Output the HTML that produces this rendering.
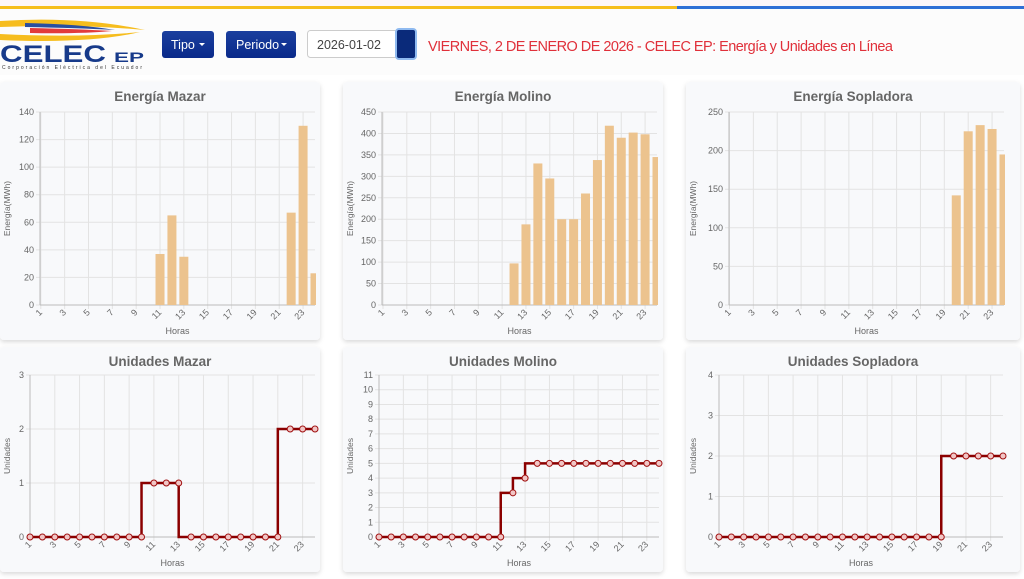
<!DOCTYPE html>
<html><head><meta charset="utf-8">
<style>
html,body{margin:0;padding:0;background:#fff;width:1024px;height:579px;overflow:hidden;font-family:"Liberation Sans",sans-serif}
</style></head><body>
<svg id="s" width="1024" height="579" xmlns="http://www.w3.org/2000/svg" font-family="Liberation Sans, sans-serif">
<defs>
<filter id="sh" x="-5%" y="-5%" width="110%" height="115%"><feDropShadow dx="0" dy="2" stdDeviation="2.5" flood-color="#000" flood-opacity="0.15"/></filter>
<linearGradient id="bt" x1="0" y1="0" x2="0" y2="1"><stop offset="0" stop-color="#1b3f9e"/><stop offset="1" stop-color="#0a2a8a"/></linearGradient>
</defs>
<rect x="0" y="0" width="1024" height="7" fill="#fdf6fa"/>
<rect x="0" y="6" width="677" height="3" fill="#f6bd1e"/>
<rect x="677" y="6" width="347" height="3" fill="#2f6fd6"/>
<rect x="0" y="9" width="1024" height="66" fill="#fcfcfc"/>
<!-- logo -->
<path d="M0,21 Q80,16 145,30 Q80,24 0,27 Z" fill="#f6bd1e"/>
<path d="M25,23 Q80,24 115,30 Q80,28 25,27 Z" fill="#2a4fa0"/>
<path d="M30,28 Q80,29 112,31 Q80,34 30,33 Z" fill="#e23b3b"/>
<path d="M0,34 Q80,38 140,32 Q90,44 0,40 Z" fill="#f6bd1e"/>
<text x="0" y="62" font-size="24" font-weight="bold" fill="#173a8a" textLength="106" lengthAdjust="spacingAndGlyphs">CELEC</text>
<text x="114" y="62" font-size="14" font-weight="bold" fill="#173a8a" textLength="30" lengthAdjust="spacingAndGlyphs">EP</text>
<text x="2" y="69" font-size="5" fill="#333" textLength="140">Corporación Eléctrica del Ecuador</text>
<rect x="162" y="31" width="52" height="27" rx="3" fill="url(#bt)"/>
<text x="171" y="49" font-size="12.5" fill="#fff">Tipo</text>
<path d="M199,43 l6,0 l-3,3z" fill="#fff"/>
<rect x="226" y="31" width="70" height="27" rx="3" fill="url(#bt)"/>
<text x="236" y="49" font-size="12.5" fill="#fff">Periodo</text>
<path d="M281,43 l6,0 l-3,3z" fill="#fff"/>
<rect x="307.5" y="30.5" width="90" height="27" rx="3" fill="#fff" stroke="#ccc"/>
<text x="317" y="49" font-size="12.5" fill="#444">2026-01-02</text>
<rect x="396" y="29" width="20" height="30" rx="3" fill="#0a2a7a" stroke="#8fbaf0" stroke-width="2"/>
<text x="428" y="51" font-size="14.5" fill="#e0303a" textLength="465">VIERNES, 2 DE ENERO DE 2026 - CELEC EP: Energía y Unidades en Línea</text>
<g id="c"></g>
</svg>
<script>
var g=document.getElementById('c'),h='';
function T(x,y,t,o){h+='<text x="'+x+'" y="'+y+'" '+(o||'')+'>'+t+'</text>';}
function chart(c){
 h+='<rect x="'+c.px+'" y="'+c.py+'" width="'+c.pw+'" height="'+c.ph+'" rx="4" fill="#f8f9fb" filter="url(#sh)"/>';
 T(c.px+c.pw/2,c.py+19,c.title,'font-size="13.5" font-weight="bold" fill="#666" text-anchor="middle"');
 var sp=(c.x24-c.x1)/23,X=function(i){return c.x1+(i-1)*sp},Y=function(v){return c.y0-(c.y0-c.yt)*v/c.max};
 var right=c.x24;
 for(var v=0;v<=c.max;v+=c.st){var y=Y(v);h+='<line x1="'+(c.ax-4)+'" x2="'+right+'" y1="'+y+'" y2="'+y+'" stroke="#e3e3e3"/>';T(c.ax-6,y+3,v,'font-size="9" fill="#666" text-anchor="end"');}
 for(var i=1;i<=24;i+=2){var x=X(i);h+='<line x1="'+x+'" x2="'+x+'" y1="'+c.yt+'" y2="'+(c.y0+4)+'" stroke="#e3e3e3"/>';T(x+2,c.y0+8,i,'font-size="9" fill="#666" text-anchor="end" transform="rotate(-45 '+(x+2)+' '+(c.y0+8)+')"');}
 h+='<line x1="'+c.ax+'" x2="'+c.ax+'" y1="'+c.yt+'" y2="'+c.y0+'" stroke="#bbb"/>';
 h+='<line x1="'+c.ax+'" x2="'+right+'" y1="'+c.y0+'" y2="'+c.y0+'" stroke="#bbb"/>';
 T((c.ax+right)/2,c.y0+29,'Horas','font-size="9" fill="#666" text-anchor="middle"');
 var ly=(c.y0+c.yt)/2;T(c.px+10,ly,c.yl,'font-size="8.5" fill="#666" text-anchor="middle" transform="rotate(-90 '+(c.px+10)+' '+ly+')"');
 if(c.bars){h+='<g>';for(var i=1;i<=24;i++){var v=c.d[i-1];if(!v)continue;var x=X(i)-4.5,w=9;if(x+w>right+1)w=right+1-x;h+='<rect x="'+x+'" y="'+Y(v)+'" width="'+w+'" height="'+(c.y0-Y(v))+'" fill="#ecc38e"/>';}h+='</g>';}
 else{var p='M'+X(1)+','+Y(c.d[0]);for(var i=2;i<=24;i++){p+=' L'+X(i-1)+','+Y(c.d[i-1])+' L'+X(i)+','+Y(c.d[i-1]);}
  h+='<path d="'+p+'" fill="none" stroke="#8b0000" stroke-width="2.5"/>';
  for(var i=1;i<=24;i++)h+='<circle cx="'+X(i)+'" cy="'+Y(c.d[i-1])+'" r="3" fill="#f1c6c6" stroke="#a01010" stroke-width="1"/>';}
}
function arr(m){var a=[];for(var i=1;i<=24;i++)a.push(m[i]||0);return a;}
chart({px:0,py:82,pw:320,ph:258,title:'Energía Mazar',ax:40,x1:40.8,x24:315,y0:305,yt:112,max:140,st:20,yl:'Energía(MWh)',bars:1,d:arr({11:37,12:65,13:35,22:67,23:130,24:23})});
chart({px:343,py:82,pw:320,ph:258,title:'Energía Molino',ax:382,x1:383,x24:657,y0:305,yt:112,max:450,st:50,yl:'Energía(MWh)',bars:1,d:arr({12:97,13:188,14:330,15:295,16:200,17:200,18:260,19:338,20:418,21:390,22:402,23:398,24:345})});
chart({px:686,py:82,pw:334,ph:258,title:'Energía Sopladora',ax:729,x1:729.5,x24:1004,y0:305,yt:112,max:250,st:50,yl:'Energía(MWh)',bars:1,d:arr({20:142,21:225,22:233,23:228,24:195})});
chart({px:0,py:347,pw:320,ph:225,title:'Unidades Mazar',ax:30,x1:30,x24:315,y0:537,yt:375,max:3,st:1,yl:'Unidades',d:arr({11:1,12:1,13:1,22:2,23:2,24:2})});
chart({px:343,py:347,pw:320,ph:225,title:'Unidades Molino',ax:379,x1:379,x24:659,y0:537,yt:375,max:11,st:1,yl:'Unidades',d:arr({12:3,13:4,14:5,15:5,16:5,17:5,18:5,19:5,20:5,21:5,22:5,23:5,24:5})});
chart({px:686,py:347,pw:334,ph:225,title:'Unidades Sopladora',ax:719,x1:719,x24:1003,y0:537,yt:375,max:4,st:1,yl:'Unidades',d:arr({20:2,21:2,22:2,23:2,24:2})});
g.innerHTML=h;
</script>
</body></html>
